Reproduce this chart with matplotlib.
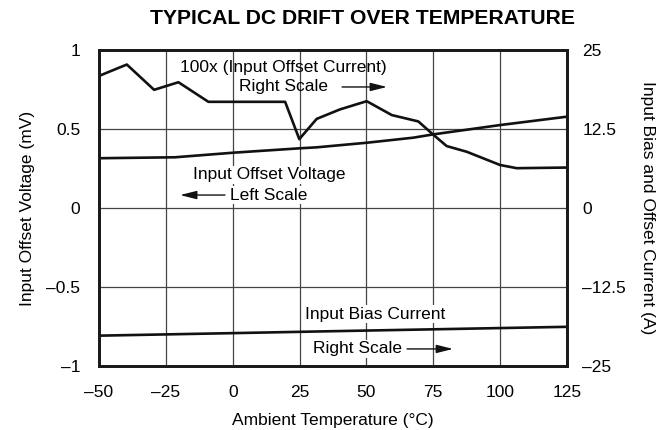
import matplotlib
matplotlib.use("Agg")
import matplotlib.pyplot as plt

plt.rcParams['font.family'] = ['Liberation Sans', 'DejaVu Sans']

# Data
temp_offset_current = [-50, -39.6, -29.4, -20.3, -9.1, 19.6, 24.9, 31.4, 40.1, 50.1, 59.5, 69.4, 75.0, 80.0, 87.5, 100, 106.2, 125]
offset_current_x100 = [20.9, 22.7, 18.7, 19.9, 16.8, 16.8, 10.9, 14.1, 15.6, 16.9, 14.7, 13.7, 11.6, 9.8, 8.9, 6.8, 6.3, 6.4]

temp_offset_voltage = [-50, -21.6, 0.2, 25.2, 31.4, 50.1, 67.5, 75, 100, 125]
offset_voltage = [0.315, 0.321, 0.350, 0.378, 0.384, 0.413, 0.445, 0.466, 0.525, 0.578]

temp_bias = [-50, -25, 0, 36.4, 125]
bias_current = [-20.2, -20.0, -19.8, -19.5, -18.8]

x_ticks = [-50, -25, 0, 25, 50, 75, 100, 125]
x_tick_labels = ['–50', '–25', '0', '25', '50', '75', '100', '125']
left_ticks = [-1, -0.5, 0, 0.5, 1]
left_tick_labels = ['–1', '–0.5', '0', '0.5', '1']
right_ticks = [-25, -12.5, 0, 12.5, 25]
right_tick_labels = ['–25', '–12.5', '0', '12.5', '25']

fs = 12.5
fig = plt.figure(figsize=(6.6, 4.3), dpi=100)
ax = fig.add_axes([99/660, 64/430, 468/660, 316/430])
ax2 = ax.twinx()

ax.set_xlim(-50, 125)
ax.set_ylim(-1, 1)
ax2.set_ylim(-25, 25)

ax.set_xticks(x_ticks)
ax.set_xticklabels(x_tick_labels, fontsize=fs)
ax.set_yticks(left_ticks)
ax.set_yticklabels(left_tick_labels, fontsize=fs)
ax2.set_yticks(right_ticks)
ax2.set_yticklabels(right_tick_labels, fontsize=fs)
ax.tick_params(axis='y', length=0, pad=13.5)
ax.tick_params(axis='x', length=0, pad=14)
ax2.tick_params(length=0, pad=11)

ax.grid(True, color='#444444', linewidth=0.9)
ax.set_axisbelow(True)
for a in (ax, ax2):
    for s in a.spines.values():
        s.set_linewidth(2.0)
        s.set_color('#1a1a1a')

lw = 1.9
ax.plot(temp_offset_voltage, offset_voltage, color='#111111', linewidth=lw, solid_joinstyle='round')
ax2.plot(temp_offset_current, offset_current_x100, color='#111111', linewidth=lw, solid_joinstyle='round')
ax2.plot(temp_bias, bias_current, color='#111111', linewidth=lw)

ax.set_xlabel('Ambient Temperature (°C)', fontsize=fs, labelpad=9)
ax.set_ylabel('Input Offset Voltage (mV)', fontsize=fs, labelpad=8)
ax2.set_ylabel('Input Bias and Offset Current (A)', fontsize=fs, rotation=-90, labelpad=21)

fig.text(362/660, 1 - 18/430, 'TYPICAL DC DRIFT OVER TEMPERATURE', fontsize=15.2,
         fontweight='bold', ha='center', va='center')

arrow = dict(arrowstyle='-|>,head_length=1.0,head_width=0.25', color='#111111', lw=1.0,
             shrinkA=0, shrinkB=0)
white = dict(facecolor='white', edgecolor='none', pad=1.0)

# annotations (in data coords of left axis)
ax.text(18.8, 0.892, '100x (Input Offset Current)', fontsize=fs, ha='center', va='center')
ax.text(2.4, 0.766, 'Right Scale', fontsize=fs, ha='left', va='center')
ax.annotate('', xy=(57.7, 0.766), xytext=(40.9, 0.766), arrowprops=arrow)
ax.text(13.6, 0.209, 'Input Offset Voltage', fontsize=fs, ha='center', va='center', bbox=white)
ax.text(-1.0, 0.082, 'Left Scale', fontsize=fs, ha='left', va='center', bbox=white)
ax.annotate('', xy=(-19.7, 0.082), xytext=(-2.9, 0.082), arrowprops=arrow)
ax.text(27.0, -0.671, 'Input Bias Current', fontsize=fs, ha='left', va='center', bbox=white)
ax.text(30.0, -0.892, 'Right Scale', fontsize=fs, ha='left', va='center', bbox=white)
ax.annotate('', xy=(82.4, -0.892), xytext=(65.2, -0.892), arrowprops=arrow)

fig.savefig('out.png', dpi=100)
